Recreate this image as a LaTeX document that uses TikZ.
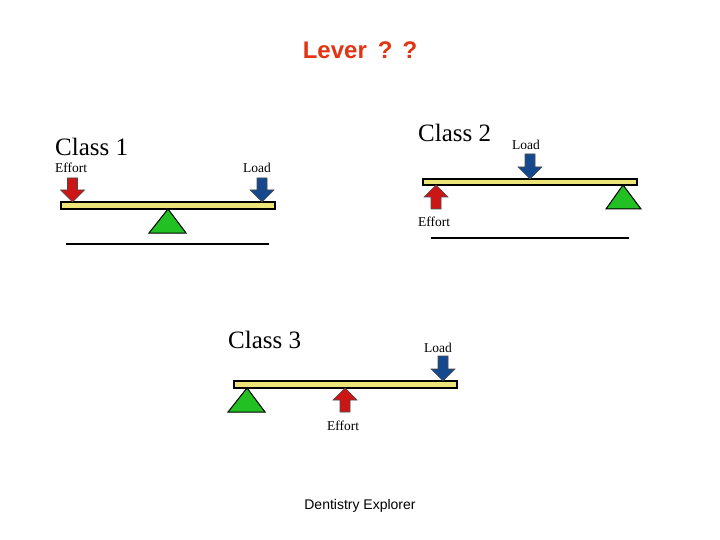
\documentclass[tikz,border=0pt]{standalone}
\usepackage{fontspec}
\setmainfont{Liberation Serif}
\newfontfamily\arialf{Liberation Sans}
\definecolor{titlered}{RGB}{226,52,18}
\definecolor{beamy}{RGB}{236,228,120}
\definecolor{effred}{RGB}{204,22,22}
\definecolor{loadblue}{RGB}{22,72,142}
\definecolor{fulgreen}{RGB}{34,192,34}
\newcommand\levdown[4]{% color, cx, top, tip
  \draw[arrowshape,fill=#1] ({#2-5},#3) -- ({#2+5},#3) -- ({#2+5},{#4-12}) -- ({#2+12},{#4-12}) -- (#2,#4) -- ({#2-12},{#4-12}) -- ({#2-5},{#4-12}) -- cycle;}
\newcommand\levup[4]{% color, cx, bottom, tip
  \draw[arrowshape,fill=#1] ({#2-5},#3) -- ({#2+5},#3) -- ({#2+5},{#4+12}) -- ({#2+12},{#4+12}) -- (#2,#4) -- ({#2-12},{#4+12}) -- ({#2-5},{#4+12}) -- cycle;}
\begin{document}
\begin{tikzpicture}[x=1pt,y=-1pt,
  beam/.style={fill=beamy,draw=black,line width=1.4pt},
  fulcrum/.style={fill=fulgreen,draw=black,line width=1pt,line join=miter},
  ground/.style={draw=black,line width=2.6pt},
  arrowshape/.style={draw=black!70,line width=0.6pt},
  classlbl/.style={anchor=base west,inner sep=0pt,font=\fontsize{25}{28}\selectfont},
  smalllbl/.style={anchor=base west,inner sep=0pt,font=\fontsize{13.5}{15}\selectfont}]
\useasboundingbox (0,0) rectangle (720,540);
\fill[white] (0,0) rectangle (720,540);
% title
\node[anchor=base,inner sep=0pt,text=titlered,font=\arialf\bfseries\fontsize{24}{28}\selectfont] (title) at (360,59) {Lever\hspace{11pt}?\hspace{10pt}?};
% ---- Class 1
\node[classlbl] (c1) at (55,156) {Class 1};
\node[smalllbl] (c1e) at (55,173) {Effort};
\node[smalllbl] (c1l) at (243,173) {Load};
\draw[ground] (66,244) -- (269,244);
\draw[fulcrum] (168,209) -- (186,233) -- (149,233) -- cycle;
\draw[beam] (61,202) rectangle (275,209);
\levdown{effred}{72.5}{178}{202}
\levdown{loadblue}{262}{178}{202}
% ---- Class 2
\node[classlbl] (c2) at (418,142) {Class 2};
\node[smalllbl] (c2l) at (512,150) {Load};
\node[smalllbl] (c2e) at (418,226) {Effort};
\draw[ground] (431,238) -- (629,238);
\draw[fulcrum] (623,185) -- (641,209) -- (606,209) -- cycle;
\draw[beam] (423,179) rectangle (637,185);
\levdown{loadblue}{530}{154}{179}
\levup{effred}{436}{209}{185}
% ---- Class 3
\node[classlbl] (c3) at (228,348) {Class 3};
\node[smalllbl] (c3l) at (424,352) {Load};
\node[smalllbl] (c3e) at (327,430) {Effort};
\draw[fulcrum] (247,388) -- (265,412) -- (228,412) -- cycle;
\draw[beam] (234,381) rectangle (457,388);
\levdown{loadblue}{443}{356}{381}
\levup{effred}{345}{412}{388}
% footer
\node[anchor=base,inner sep=0pt,font=\arialf\fontsize{14}{16}\selectfont] (foot) at (360,509) {Dentistry Explorer};
\end{tikzpicture}
\end{document}
